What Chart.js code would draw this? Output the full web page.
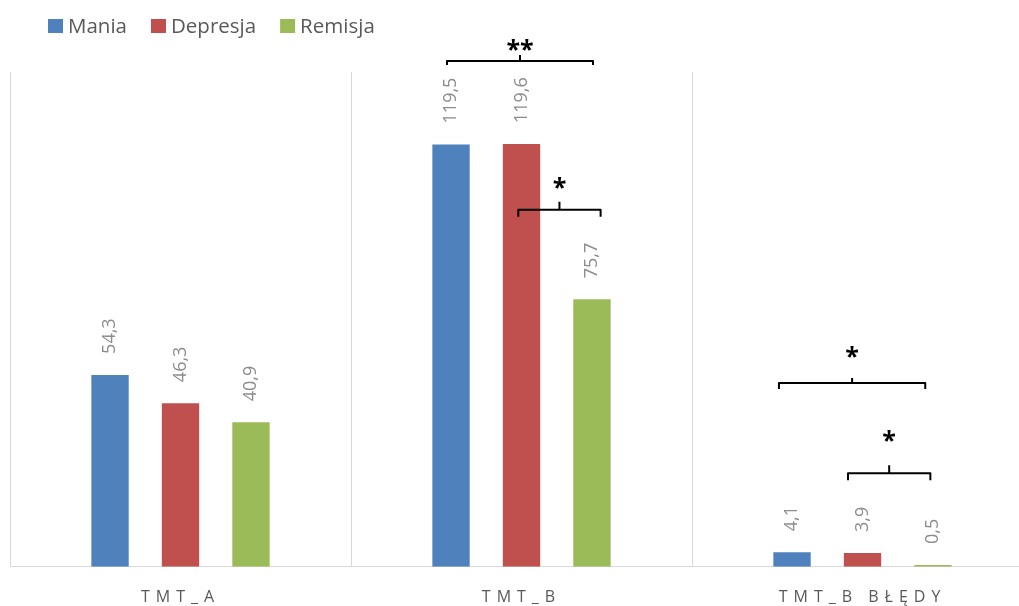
<!DOCTYPE html>
<html lang="pl">
<head>
<meta charset="utf-8">
<script src="https://cdn.jsdelivr.net/npm/chart.js@4.4.1/dist/chart.umd.min.js"></script>
<style>
  html, body { margin: 0; padding: 0; background: #ffffff; overflow: hidden; }
  #wrap { width: 1043px; height: 630px; }
</style>
</head>
<body>
<div id="wrap"><canvas id="c" width="1043" height="630"></canvas></div>
<script>
const categories = ['TMT_A', 'TMT_B', 'TMT_B BŁĘDY'];
const seriesNames = ['Mania', 'Depresja', 'Remisja'];
const mania = [54.3, 119.5, 4.1];
const depresja = [46.3, 119.6, 3.9];
const remisja = [40.9, 75.7, 0.5];
const yMax = 140;

// Significance brackets: category index, span as a fraction of the category width,
// bracket level and asterisk level in axis units.
const brackets = [
  { cat: 1, from: -0.2185, to: 0.2097, level: 143.1, mark: '**', markLevel: 147.6, drop: 4, rise: 6 },
  { cat: 1, from: -0.0094, to: 0.2320, level: 101.0, mark: '*',  markLevel: 108.5, drop: 7, rise: 8 },
  { cat: 2, from: -0.2450, to: 0.1840, level: 52.0,  mark: '*',  markLevel: 60.8,  drop: 6, rise: 5 },
  { cat: 2, from: -0.0425, to: 0.1990, level: 26.5,  mark: '*',  markLevel: 37.0,  drop: 7, rise: 8 }
];

const colors = ['#4F81BD', '#C0504D', '#9BBB59'];
const FONT = '"Open Sans", "Noto Sans", sans-serif';

// Spaced-out category labels on the horizontal axis
const axisSpacing = {
  id: 'axisSpacing',
  beforeDraw(chart) { chart.ctx.letterSpacing = '6px'; },
  beforeDatasetsDraw(chart) { chart.ctx.letterSpacing = '0px'; }
};

// Rotated value labels above each bar
const valueLabels = {
  id: 'valueLabels',
  afterDatasetsDraw(chart) {
    const ctx = chart.ctx;
    chart.data.datasets.forEach((ds, i) => {
      const meta = chart.getDatasetMeta(i);
      meta.data.forEach((bar, j) => {
        const text = ds.data[j].toFixed(1).replace('.', ',');
        ctx.save();
        ctx.translate(bar.x, bar.y - 21);
        ctx.rotate(-Math.PI / 2);
        ctx.font = '18px ' + FONT;
        ctx.fillStyle = '#8c8c8c';
        ctx.textAlign = 'left';
        ctx.textBaseline = 'middle';
        ctx.fillText(text, 0, 0);
        ctx.restore();
      });
    });
  }
};

// Legend row in the top-left corner
const topLegend = {
  id: 'topLegend',
  afterDraw(chart) {
    const ctx = chart.ctx;
    ctx.save();
    ctx.font = '20.5px ' + FONT;
    ctx.textAlign = 'left';
    ctx.textBaseline = 'alphabetic';
    let x = 48;
    chart.data.datasets.forEach(ds => {
      ctx.fillStyle = ds.backgroundColor;
      ctx.fillRect(x, 19, 15, 14);
      ctx.fillStyle = '#595959';
      ctx.fillText(ds.label, x + 20, 32.5);
      x += 20 + ctx.measureText(ds.label).width + 24;
    });
    ctx.restore();
  }
};

// Brackets with asterisks marking significant differences
const sigBrackets = {
  id: 'sigBrackets',
  afterDraw(chart) {
    const ctx = chart.ctx;
    const xs = chart.scales.x, ys = chart.scales.y;
    const cw = xs.width / categories.length;
    ctx.save();
    ctx.strokeStyle = '#000000';
    ctx.fillStyle = '#000000';
    ctx.lineWidth = 2;
    ctx.lineJoin = 'round';
    ctx.lineCap = 'butt';
    brackets.forEach(b => {
      const c = xs.getPixelForValue(b.cat);
      const x1 = c + b.from * cw, x2 = c + b.to * cw;
      const y = ys.getPixelForValue(b.level);
      const xm = (x1 + x2) / 2;
      ctx.beginPath();
      ctx.moveTo(x1, y + b.drop);
      ctx.lineTo(x1, y);
      ctx.lineTo(x2, y);
      ctx.lineTo(x2, y + b.drop);
      ctx.moveTo(xm, y);
      ctx.lineTo(xm, y - b.rise);
      ctx.stroke();

      ctx.font = '700 25px ' + FONT;
      ctx.textAlign = 'center';
      ctx.textBaseline = 'alphabetic';
      const m = ctx.measureText(b.mark);
      const ym = ys.getPixelForValue(b.markLevel);
      ctx.fillText(b.mark, xm, ym + (m.actualBoundingBoxAscent - m.actualBoundingBoxDescent) / 2);
    });
    ctx.restore();
  }
};

const seriesValues = [mania, depresja, remisja];

new Chart(document.getElementById('c'), {
  type: 'bar',
  data: {
    labels: categories,
    datasets: seriesNames.map((name, i) => ({
      label: name,
      data: seriesValues[i],
      backgroundColor: colors[i],
      borderWidth: 0,
      categoryPercentage: 0.62,
      barPercentage: 0.53
    }))
  },
  options: {
    responsive: false,
    animation: false,
    layout: { padding: { left: 10, right: 10, top: 72, bottom: 2 } },
    plugins: {
      legend: { display: false },
      tooltip: { enabled: false }
    },
    scales: {
      x: {
        grid: { display: true, offset: true, color: '#d9d9d9', lineWidth: 1, drawTicks: false },
        border: { display: true, color: '#d9d9d9', width: 1 },
        ticks: {
          color: '#595959',
          font: { family: FONT, size: 16 },
          padding: 21,
          maxRotation: 0,
          autoSkip: false
        }
      },
      y: { display: false, min: 0, max: yMax }
    }
  },
  plugins: [axisSpacing, valueLabels, topLegend, sigBrackets]
});
</script>
</body>
</html>
